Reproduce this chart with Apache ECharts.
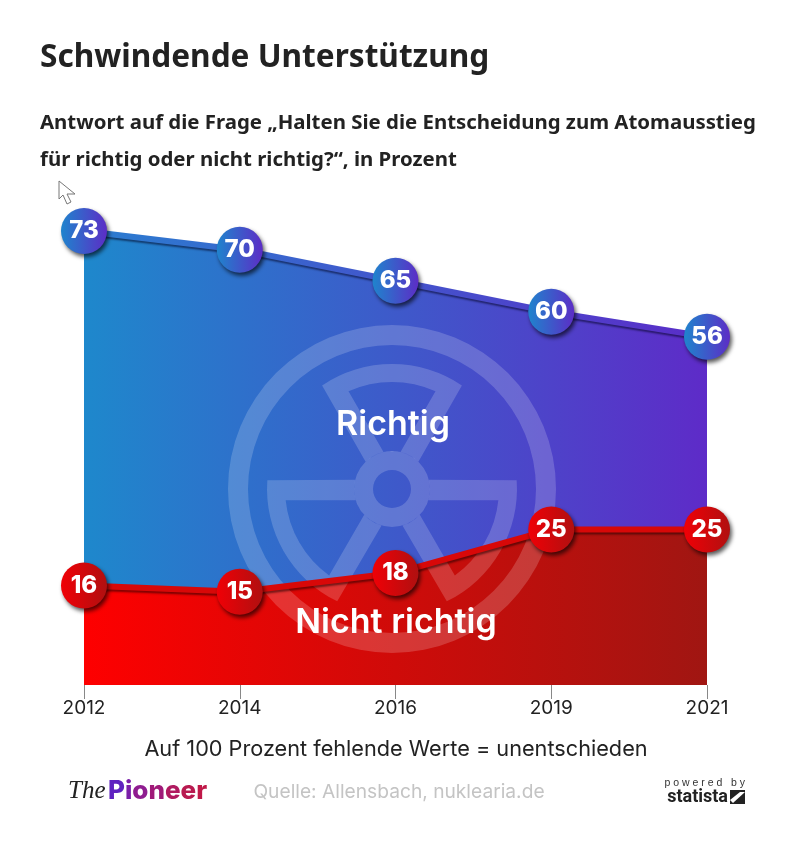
<!DOCTYPE html>
<html>
<head>
<meta charset="utf-8">
<style>html,body{margin:0;padding:0;background:#fff}</style>
<script src="https://cdn.jsdelivr.net/npm/echarts@6/dist/echarts.min.js"></script>
</head>
<body>
<div id="container" style="width:800px;height:861px"></div>
<script>
var years = ['2012', '2014', '2016', '2019', '2021'];
var richtig = [73, 70, 65, 60, 56];
var nichtRichtig = [16, 15, 18, 25, 25];

var dom = document.getElementById('container');
var myChart = echarts.init(dom);

function grad(c1, c2) {
    return new echarts.graphic.LinearGradient(0, 0, 1, 0, [
        {offset: 0, color: c1},
        {offset: 1, color: c2}
    ]);
}

// Strahlenzeichen: Fluegel als Pfad mit Loch, nach oben zeigend
function pt(r, deg) {
    var a = deg * Math.PI / 180;
    return (r * Math.sin(a)).toFixed(1) + ' ' + (-r * Math.cos(a)).toFixed(1);
}
var bladePath = 'M' + pt(38, -44) + ' L' + pt(125, -34) + ' A125 125 0 0 1 ' + pt(125, 34) +
    ' L' + pt(38, 44) + ' A38 38 0 0 0 ' + pt(38, -44) + ' Z' +
    ' M' + pt(38, 13) + ' L' + pt(107, 24) + ' A107 107 0 0 0 ' + pt(107, -24) +
    ' L' + pt(38, -13) + ' A38 38 0 0 1 ' + pt(38, 13) + ' Z';
echarts.graphic.registerShape('blade', echarts.graphic.extendPath(bladePath, {}));

var symX = 392, symY = 489, symFill = 'rgba(255,255,255,0.18)';

function blade(deg) {
    return {
        type: 'blade', z: 3, silent: true, x: symX, y: symY, rotation: -deg * Math.PI / 180,
        style: {fill: symFill}
    };
}

function txt(x, y, text, size, weight, color, family, align) {
    return {
        type: 'text', z: 6, silent: true, x: x, y: y,
        style: {
            text: text, fill: color, align: align || 'center', verticalAlign: 'middle',
            font: weight + ' ' + size + 'px "' + family + '"'
        }
    };
}

var option = {
    backgroundColor: '#fff',
    animation: false,
    grid: {left: 84, right: 93, top: 231, bottom: 176},
    xAxis: {
        type: 'category',
        boundaryGap: false,
        data: years,
        axisLine: {show: false},
        axisTick: {show: true, alignWithLabel: true, length: 14, lineStyle: {color: '#888', width: 1}},
        axisLabel: {color: '#222', fontSize: 19, fontFamily: 'Inter', margin: 14, hideOverlap: false, interval: 0}
    },
    yAxis: {type: 'value', min: 0, max: 73, show: false},
    series: [
        {
            name: 'Richtig Flaeche', type: 'line', z: 1, data: richtig, showSymbol: false, silent: true,
            lineStyle: {width: 0}, areaStyle: {color: grad('#1e88cc', '#5e2bc8'), opacity: 1}
        },
        {
            name: 'Nicht richtig Flaeche', type: 'line', z: 2, data: nichtRichtig, showSymbol: false, silent: true,
            lineStyle: {width: 0}, areaStyle: {color: grad('#fe0000', '#a01612'), opacity: 1}
        },
        {
            name: 'Richtig', type: 'line', z: 5, data: richtig, clip: false,
            symbol: 'circle', symbolSize: 46, showSymbol: true,
            lineStyle: {
                width: 6, color: grad('#2a7ed0', '#5a2cc8'),
                shadowColor: 'rgba(0,0,30,0.55)', shadowBlur: 2, shadowOffsetX: 1, shadowOffsetY: 2
            },
            itemStyle: {
                color: grad('#1f84cd', '#5c2dc6'),
                shadowColor: 'rgba(0,0,0,0.65)', shadowBlur: 4, shadowOffsetX: 2, shadowOffsetY: 3
            },
            label: {
                show: true, position: 'inside', color: '#fff', fontSize: 24,
                fontWeight: 800, fontFamily: 'Inter'
            }
        },
        {
            name: 'Nicht richtig', type: 'line', z: 5, data: nichtRichtig, clip: false,
            symbol: 'circle', symbolSize: 46, showSymbol: true,
            lineStyle: {
                width: 6, color: '#d80808',
                shadowColor: 'rgba(30,0,0,0.55)', shadowBlur: 2, shadowOffsetX: 1, shadowOffsetY: 2
            },
            itemStyle: {
                color: grad('#f00006', '#b01010'),
                shadowColor: 'rgba(0,0,0,0.65)', shadowBlur: 4, shadowOffsetX: 2, shadowOffsetY: 3
            },
            label: {
                show: true, position: 'inside', color: '#fff', fontSize: 24,
                fontWeight: 800, fontFamily: 'Inter'
            }
        }
    ],
    graphic: [
        {type: 'ring', z: 3, silent: true, shape: {cx: symX, cy: symY, r: 164, r0: 144}, style: {fill: symFill}},
        {type: 'ring', z: 3, silent: true, shape: {cx: symX, cy: symY, r: 38, r0: 19}, style: {fill: symFill}},
        blade(0), blade(120), blade(240),

        txt(40, 58, 'Schwindende Unterstützung', 31.6, 'bold', '#222', 'Noto Sans', 'left'),
        txt(40, 123, 'Antwort auf die Frage „Halten Sie die Entscheidung zum Atomausstieg', 20.4, 'bold', '#222', 'Noto Sans', 'left'),
        txt(40, 160, 'für richtig oder nicht richtig?“, in Prozent', 20.4, 'bold', '#222', 'Noto Sans', 'left'),

        txt(393, 425, 'Richtig', 34, '600', '#fff', 'Inter'),
        txt(396, 623, 'Nicht richtig', 34, '600', '#fff', 'Inter'),

        txt(396, 749, 'Auf 100 Prozent fehlende Werte = unentschieden', 21.7, 'normal', '#222', 'Inter'),
        txt(399, 792, 'Quelle: Allensbach, nuklearia.de', 19.2, 'normal', '#c4c4c4', 'Inter'),

        // Logos
        txt(68, 791, 'The', 25, 'italic normal', '#222', 'Liberation Serif', 'left'),
        {
            type: 'text', z: 6, silent: true, x: 108, y: 791,
            style: {
                rich: {
                    a: {fill: '#5f22c0', font: '800 26px "Inter"'},
                    b: {fill: '#7a1fa8', font: '800 26px "Inter"'},
                    c: {fill: '#8f1c90', font: '800 26px "Inter"'},
                    d: {fill: '#a01a78', font: '800 26px "Inter"'},
                    e: {fill: '#b01a60', font: '800 26px "Inter"'},
                    f: {fill: '#b81a50', font: '800 26px "Inter"'},
                    g: {fill: '#c01848', font: '800 26px "Inter"'}
                },
                text: '{a|P}{b|i}{c|o}{d|n}{e|e}{f|e}{g|r}',
                verticalAlign: 'middle'
            }
        },
        txt(745, 783, 'p o w e r e d   b y', 10.5, 'normal', '#333', 'Liberation Sans', 'right'),
        txt(728, 797, 'statista', 18, 'bold', '#222', 'Roboto', 'right'),
        {type: 'rect', z: 6, silent: true, shape: {x: 730, y: 790, width: 15, height: 14}, style: {fill: '#222'}},
        {type: 'polygon', z: 6, silent: true, shape: {points: [[730, 800], [740, 792], [745, 792], [733, 803]]}, style: {fill: '#fff'}},

        // Mauszeiger aus dem Screenshot
        {
            type: 'polygon', z: 6, silent: true,
            shape: {points: [[59, 181], [59, 199], [63, 195], [67, 204], [71, 202], [67, 194], [75, 194]]},
            style: {fill: '#fff', stroke: '#777', lineWidth: 1}
        }
    ]
};

myChart.setOption(option);
</script>
</body>
</html>
